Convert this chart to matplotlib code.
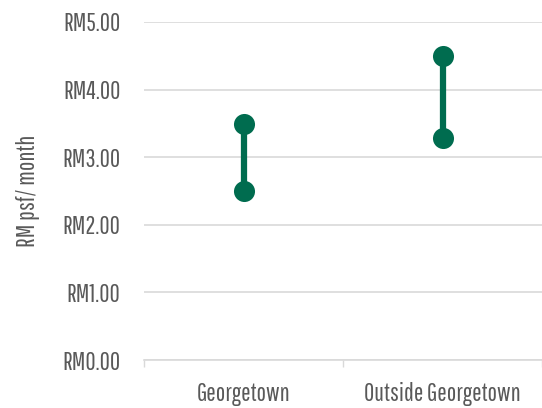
import matplotlib
matplotlib.use("Agg")
import matplotlib.pyplot as plt
from matplotlib.ticker import FuncFormatter, FixedLocator

categories = ["Georgetown", "Outside Georgetown"]
low_values = [2.50, 3.28]
high_values = [3.49, 4.50]
y_ticks = [0, 1, 2, 3, 4, 5]

plt.rcParams["font.family"] = ["Pathway Gothic One", "DejaVu Sans"]

green = "#006c4f"
gray_text = "#595959"
grid_c = "#d9d9d9"

fig = plt.figure(figsize=(5.42, 4.08), dpi=100)
ax = fig.add_axes([144/542, 48/408, 398/542, 338/408])

x = list(range(len(categories)))
for xi, lo, hi in zip(x, low_values, high_values):
    ax.plot([xi, xi], [lo, hi], color=green, lw=4.5, solid_capstyle="butt", zorder=3)
ax.scatter(x, low_values, s=230, color=green, zorder=4, linewidths=0)
ax.scatter(x, high_values, s=230, color=green, zorder=4, linewidths=0)

ax.set_xlim(-0.5, len(categories) - 0.5)
ax.set_ylim(0, 5)
ax.yaxis.set_major_locator(FixedLocator(y_ticks))
ax.yaxis.set_major_formatter(FuncFormatter(lambda v, p: f"RM{v:.2f}"))
ax.set_xticks(x)
ax.set_xticklabels(categories)
ax.set_xticks([-0.5, 0.5, 1.5], minor=True)
ax.tick_params(axis="x", which="major", length=0, pad=16, labelsize=18, labelcolor=gray_text)
ax.tick_params(axis="x", which="minor", length=5, color=grid_c, width=1)
ax.tick_params(axis="y", length=0, pad=17, labelsize=18, labelcolor=gray_text)

ax.grid(axis="y", color=grid_c, lw=1.2, zorder=0)
ax.set_axisbelow(True)
for s in ["top", "right", "left"]:
    ax.spines[s].set_visible(False)
ax.spines["bottom"].set_color(grid_c)
ax.spines["bottom"].set_linewidth(1.2)

ax.set_ylabel("RM psf/ month", fontsize=18, color=gray_text, labelpad=16)

fig.savefig("out.png", dpi=100)
